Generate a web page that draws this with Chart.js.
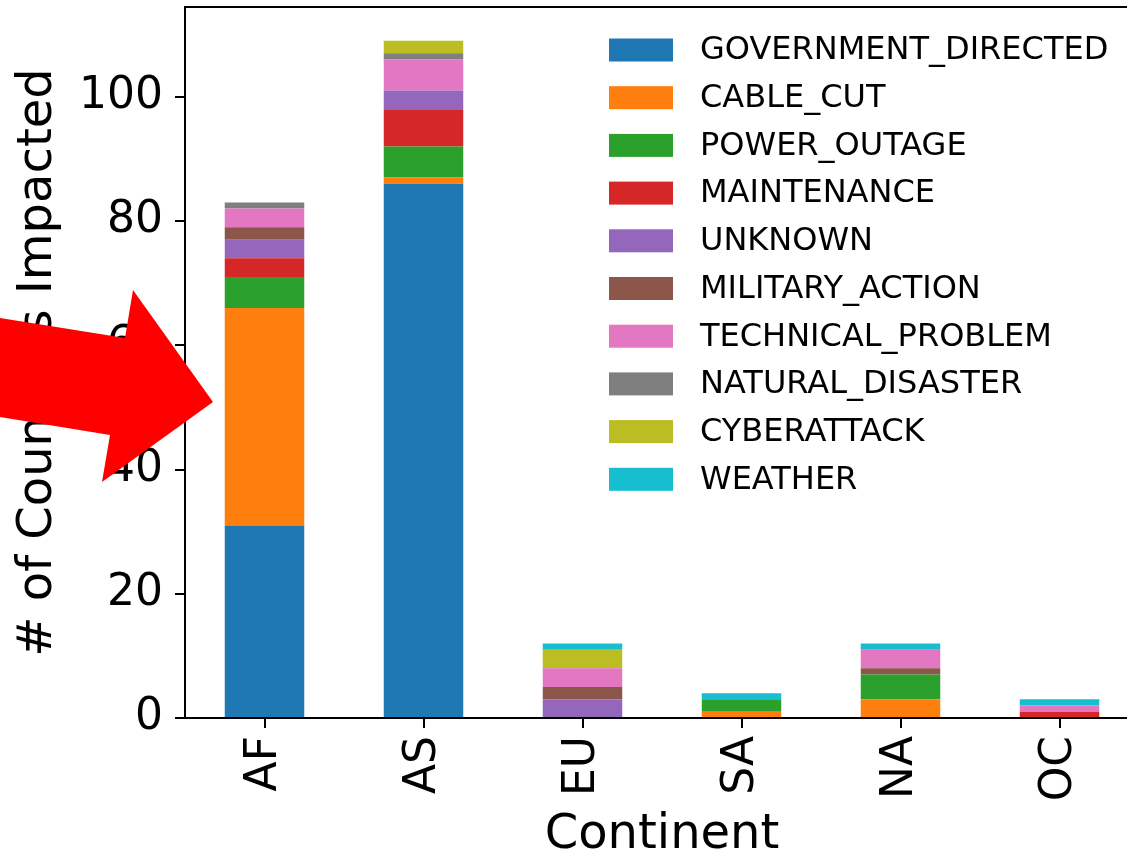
<!DOCTYPE html>
<html>
<head>
<meta charset="utf-8">
<script src="https://cdn.jsdelivr.net/npm/chart.js@4/dist/chart.umd.min.js"></script>
<style>
  html, body { margin: 0; padding: 0; background: #fff; overflow: hidden; }
  #wrap { width: 1145px; height: 860px; }
</style>
</head>
<body>
<div id="wrap"><canvas id="chart" width="1145" height="860"></canvas></div>
<script>
// continents along the x axis
const continents = ['AF', 'AS', 'EU', 'SA', 'NA', 'OC'];

// countries impacted per cause, one value per continent
const governmentDirected = [31, 86, 0, 0, 0, 0];
const cableCut = [35, 1, 0, 1, 3, 0];
const powerOutage = [5, 5, 0, 2, 4, 0];
const maintenance = [3, 6, 0, 0, 0, 1];
const unknown = [3, 3, 3, 0, 0, 0];
const militaryAction = [2, 0, 2, 0, 1, 0];
const technicalProblem = [3, 5, 3, 0, 3, 1];
const naturalDisaster = [1, 1, 0, 0, 0, 0];
const cyberattack = [0, 2, 3, 0, 0, 0];
const weather = [0, 0, 1, 1, 1, 1];

const yTicks = [0, 20, 40, 60, 80, 100];

const series = [
  ['GOVERNMENT_DIRECTED', governmentDirected, '#1f77b4'],
  ['CABLE_CUT', cableCut, '#ff7f0e'],
  ['POWER_OUTAGE', powerOutage, '#2ca02c'],
  ['MAINTENANCE', maintenance, '#d62728'],
  ['UNKNOWN', unknown, '#9467bd'],
  ['MILITARY_ACTION', militaryAction, '#8c564b'],
  ['TECHNICAL_PROBLEM', technicalProblem, '#e377c2'],
  ['NATURAL_DISASTER', naturalDisaster, '#7f7f7f'],
  ['CYBERATTACK', cyberattack, '#bcbd22'],
  ['WEATHER', weather, '#17becf'],
];

Chart.defaults.font.family = "'DejaVu Sans', sans-serif";
Chart.defaults.color = '#000';

// frame on top + legend + the red arrow overlay
const extras = {
  id: 'extras',
  afterDraw(chart) {
    const ctx = chart.ctx;
    const a = chart.chartArea;
    ctx.save();
    ctx.strokeStyle = '#000';
    ctx.lineWidth = 2;
    ctx.beginPath();
    ctx.moveTo(a.left, a.top);
    ctx.lineTo(a.right, a.top);
    ctx.lineTo(a.right, a.bottom);
    ctx.stroke();

    // legend
    ctx.font = "32px 'DejaVu Sans'";
    ctx.textBaseline = 'middle';
    ctx.textAlign = 'left';
    chart.data.datasets.forEach((ds, i) => {
      const cy = 50 + i * 47.7;
      ctx.fillStyle = ds.backgroundColor;
      ctx.fillRect(609, cy - 11.5, 64, 23);
      ctx.fillStyle = '#000';
      ctx.fillText(ds.label, 700, cy + 1);
    });

    // arrow
    ctx.fillStyle = '#ff0000';
    ctx.beginPath();
    ctx.moveTo(0, 318);
    ctx.lineTo(125, 338);
    ctx.lineTo(133, 290);
    ctx.lineTo(213, 402);
    ctx.lineTo(102, 482);
    ctx.lineTo(110, 435);
    ctx.lineTo(0, 417);
    ctx.closePath();
    ctx.fill();
    ctx.restore();
  }
};

new Chart(document.getElementById('chart'), {
  type: 'bar',
  data: {
    labels: continents,
    datasets: series.map(([label, data, color]) => ({
      label,
      data,
      backgroundColor: color,
      borderWidth: 0,
      categoryPercentage: 1,
      barPercentage: 0.5,
    })),
  },
  options: {
    responsive: false,
    animation: false,
    layout: { padding: { top: 7, right: 6, left: 0, bottom: 0 } },
    plugins: {
      legend: { display: false },
      tooltip: { enabled: false },
    },
    scales: {
      x: {
        stacked: true,
        offset: true,
        afterFit: (s) => { s.height = 142; s.paddingLeft = 0; s.paddingRight = 0; },
        grid: { display: true, offset: false, drawOnChartArea: false, drawTicks: true, tickLength: 10, color: '#000', lineWidth: 2 },
        border: { display: true, color: '#000', width: 2 },
        ticks: { font: { size: 44 }, minRotation: 90, maxRotation: 90, padding: 8, autoSkip: false },
        title: { display: true, text: 'Continent', font: { size: 48, lineHeight: 1 }, padding: 0 },
      },
      y: {
        stacked: true,
        min: 0,
        max: 114.45,
        afterFit: (s) => { s.width = 185; s.paddingTop = 0; s.paddingBottom = 0; },
        afterBuildTicks: (s) => { s.ticks = yTicks.map((v) => ({ value: v })); },
        grid: { display: true, drawOnChartArea: false, drawTicks: true, tickLength: 10, color: '#000', lineWidth: 2 },
        border: { display: true, color: '#000', width: 2 },
        ticks: { font: { size: 44 }, padding: 12 },
        title: { display: true, text: '# of Countries Impacted', font: { size: 48 }, padding: { top: 10, bottom: 0 } },
      },
    },
  },
  plugins: [extras],
});
</script>
</body>
</html>
